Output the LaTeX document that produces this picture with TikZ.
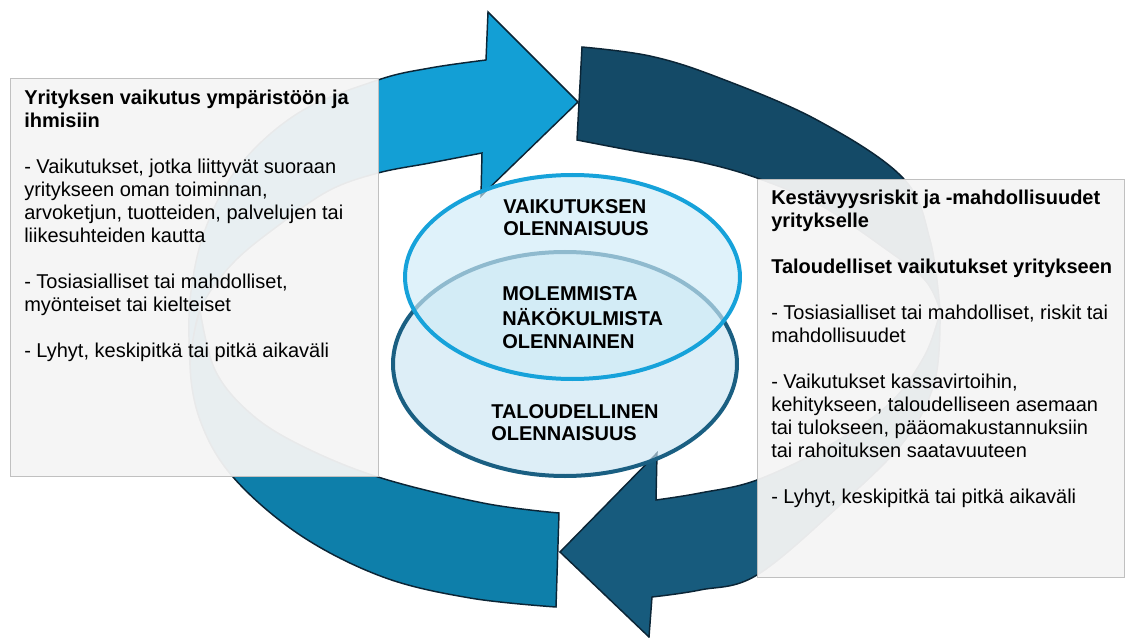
\documentclass[tikz,border=0pt]{standalone}
\usepackage{fontspec}
\setmainfont{Liberation Sans}
\definecolor{cT}{RGB}{19,159,213}
\definecolor{cB}{RGB}{14,127,170}
\definecolor{cD}{RGB}{20,74,103}
\definecolor{cR}{RGB}{23,91,125}
\definecolor{cEdge}{RGB}{11,37,54}
\definecolor{cPanel}{RGB}{244,244,244}
\definecolor{cPanelEdge}{RGB}{192,192,192}
\definecolor{cUpFill}{RGB}{206,235,247}
\definecolor{cLowFill}{RGB}{203,229,243}
\definecolor{cUpEdge}{RGB}{22,162,218}
\definecolor{cLowEdge}{RGB}{26,95,130}
\begin{document}
\begin{tikzpicture}[x=0.75pt,y=-0.75pt,
  arrowpart/.style={draw=cEdge, line width=1.1pt, line join=miter},
  panel/.style={fill=cPanel, fill opacity=0.95, draw=cPanelEdge, line width=0.7pt},
  bodytext/.style={anchor=north west, inner sep=0pt, align=left, text=black,
    font=\fontsize{15}{17.25}\selectfont},
  ovaltext/.style={anchor=north west, inner sep=0pt, align=left, text=black,
    font=\fontsize{15}{17}\selectfont\bfseries}
]
\useasboundingbox (0,0) rectangle (1125,638);

% ---- ring pieces ----
% bottom-left segment
\path[arrowpart, fill=cB] (559,513)
  -- plot[smooth, tension=0.6] coordinates {(559,513) (483,503) (378,477) (300,445) (250,413) (215,370) (200,310)}
  -- plot[smooth, tension=0.6] coordinates {(200,310) (190,360) (200,420) (233,477) (300,535) (383,577) (470,598) (556,607)}
  -- cycle;
% top-left arrow
\path[arrowpart, fill=cT] (578,102) -- (488,12) -- (486,60)
  -- plot[smooth, tension=0.6] coordinates {(486,60) (430,68) (378,80) (300,112) (240,165) (205,230) (190,300) (190,365)}
  -- plot[smooth, tension=0.6] coordinates {(190,365) (200,310) (233,263) (283,222) (330,190) (378,173) (430,163) (482,153)}
  -- (481,196) -- cycle;
% top-right segment
\path[arrowpart, fill=cD] (582,47)
  -- plot[smooth, tension=0.6] coordinates {(582,47) (650,56) (717,77) (817,120) (903,178) (930,240) (940,310)}
  -- plot[smooth, tension=0.6] coordinates {(940,310) (925,280) (883,247) (820,205) (757,178) (700,162) (640,152) (577,140)}
  -- cycle;
% bottom-right arrow
\path[arrowpart, fill=cR] (560,552) -- (657,453) -- (656,500)
  -- plot[smooth, tension=0.6] coordinates {(656,500) (700,493) (757,480) (830,445) (890,403) (925,355) (940,312)}
  -- plot[smooth, tension=0.6] coordinates {(940,312) (935,380) (905,440) (840,505) (757,575) (700,590) (652,597)}
  -- (649,637) -- cycle;

% ---- panels ----
\path[panel] (10,78) rectangle (378,476);
\path[panel] (757,179) rectangle (1124.5,577);

% ---- ellipses ----
\path[draw=cLowEdge, line width=3pt, fill=cLowFill, fill opacity=0.65]
  (565,364) ellipse [x radius=129pt, y radius=84pt];
\path[draw=cUpEdge, line width=3pt, fill=cUpFill, fill opacity=0.65]
  (572.5,277) ellipse [x radius=125.6pt, y radius=76.5pt];

% ---- texts ----
\node[bodytext] (lefttext) at (24,88.4) {\strut\textbf{Yrityksen vaikutus ympäristöön ja}\\
  \textbf{ihmisiin}\\[17.25pt]
  - Vaikutukset, jotka liittyvät suoraan\\
  yritykseen oman toiminnan,\\
  arvoketjun, tuotteiden, palvelujen tai\\
  liikesuhteiden kautta\\[17.25pt]
  - Tosiasialliset tai mahdolliset,\\
  myönteiset tai kielteiset\\[17.25pt]
  - Lyhyt, keskipitkä tai pitkä aikaväli};

\node[bodytext] (righttext) at (771,188.4) {\strut\textbf{Kestävyysriskit ja -mahdollisuudet}\\
  \textbf{yritykselle}\\[17.25pt]
  \textbf{Taloudelliset vaikutukset yritykseen}\\[17.25pt]
  - Tosiasialliset tai mahdolliset, riskit tai\\
  mahdollisuudet\\[17.25pt]
  - Vaikutukset kassavirtoihin,\\
  kehitykseen, taloudelliseen asemaan\\
  tai tulokseen, pääomakustannuksiin\\
  tai rahoituksen saatavuuteen\\[17.25pt]
  - Lyhyt, keskipitkä tai pitkä aikaväli};

\node[ovaltext] (impact) at (503,197.1) {\strut VAIKUTUKSEN\\OLENNAISUUS};
\node[ovaltext] (both) at (502,284.1) {\strut MOLEMMISTA\\NÄKÖKULMISTA\\OLENNAINEN};
\node[ovaltext] (financial) at (491,402.1) {\strut TALOUDELLINEN\\OLENNAISUUS};
\end{tikzpicture}
\end{document}
